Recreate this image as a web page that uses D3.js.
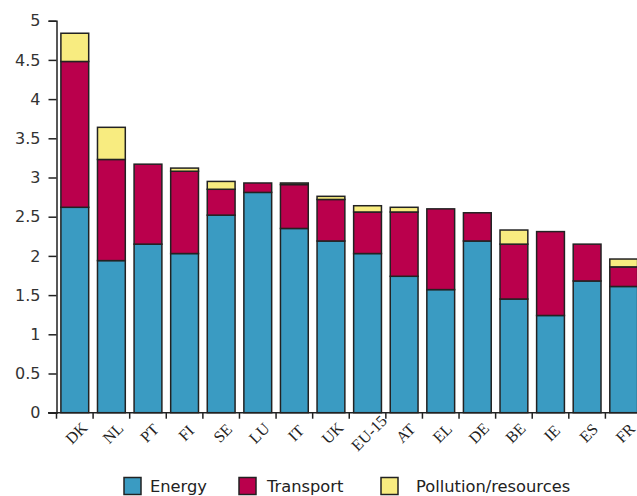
<!DOCTYPE html>
<html>
<head>
<meta charset="utf-8">
<script src="https://cdn.jsdelivr.net/npm/d3@7/dist/d3.min.js"></script>
<style>
  html, body { margin: 0; padding: 0; background: #ffffff; overflow: hidden; }
  svg { display: block; }
</style>
</head>
<body>
<svg id="chart" width="637" height="496"></svg>
<script>
// Countries, ordered by total contribution
const countries = ["DK", "NL", "PT", "FI", "SE", "LU", "IT", "UK", "EU-15", "AT", "EL", "DE", "BE", "IE", "ES", "FR"];

// Stacked components per country
const energy    = [2.62, 1.94, 2.15, 2.03, 2.52, 2.81, 2.35, 2.19, 2.03, 1.74, 1.57, 2.19, 1.45, 1.24, 1.68, 1.61];
const transport = [1.86, 1.29, 1.02, 1.05, 0.33, 0.12, 0.56, 0.53, 0.53, 0.82, 1.03, 0.36, 0.70, 1.07, 0.47, 0.25];
const pollution = [0.36, 0.41, 0.00, 0.04, 0.10, 0.00, 0.02, 0.04, 0.08, 0.06, 0.00, 0.00, 0.18, 0.00, 0.00, 0.10];

const seriesNames = ["Energy", "Transport", "Pollution/resources"];
const seriesColors = ["#3a9bc2", "#ba004c", "#f8ec80"];
const yTicks = [0, 0.5, 1, 1.5, 2, 2.5, 3, 3.5, 4, 4.5, 5];

const rows = countries.map((c, i) => ({
  country: c,
  "Energy": energy[i],
  "Transport": transport[i],
  "Pollution/resources": pollution[i]
}));

const svg = d3.select("#chart");

const x = d3.scaleBand()
  .domain(countries)
  .range([56.5, 642])
  .paddingInner(0.24)
  .paddingOuter(0.12);

const y = d3.scaleLinear()
  .domain([0, 5])
  .range([412.7, 20.7]);

const stack = d3.stack().keys(seriesNames);
const layers = stack(rows);

// Bars
const g = svg.append("g");
layers.forEach((layer, li) => {
  g.selectAll(null)
    .data(layer.filter(d => d[1] - d[0] > 0))
    .join("rect")
    .attr("x", d => x(d.data.country))
    .attr("width", x.bandwidth())
    .attr("y", d => y(d[1]))
    .attr("height", d => y(d[0]) - y(d[1]))
    .attr("fill", seriesColors[li])
    .attr("stroke", "#222")
    .attr("stroke-width", 1.5);
});

// Y axis
const yAxis = d3.axisLeft(y)
  .tickValues(yTicks)
  .tickFormat(d3.format("~g"))
  .tickSize(8)
  .tickPadding(8);

const yG = svg.append("g")
  .attr("transform", "translate(56.5,0)")
  .call(yAxis);
yG.select(".domain").attr("stroke", "#222").attr("stroke-width", 1.5);
yG.selectAll(".tick line").attr("stroke", "#222").attr("stroke-width", 1.5);
yG.selectAll(".tick text")
  .attr("fill", "#333")
  .style("font-family", "'DejaVu Sans', Verdana, sans-serif")
  .style("font-size", "16px");

// X axis line with ticks at category boundaries
const xG = svg.append("g");
xG.append("line")
  .attr("x1", 48).attr("x2", 637)
  .attr("y1", y(0)).attr("y2", y(0))
  .attr("stroke", "#222").attr("stroke-width", 1.5);
xG.selectAll(".xtick")
  .data(countries)
  .join("line")
  .attr("class", "xtick")
  .attr("x1", d => x(d) - x.step() * x.paddingOuter())
  .attr("x2", d => x(d) - x.step() * x.paddingOuter())
  .attr("y1", y(0))
  .attr("y2", y(0) + 6)
  .attr("stroke", "#222").attr("stroke-width", 1.5);

xG.selectAll(".xlabel")
  .data(countries)
  .join("text")
  .attr("class", "xlabel")
  .attr("transform", d => `translate(${x(d) + x.bandwidth() / 2 + 1.5},433) rotate(-45)`)
  .attr("text-anchor", "middle")
  .attr("dominant-baseline", "central")
  .attr("fill", "#222")
  .style("font-family", "'Liberation Serif', 'Times New Roman', serif")
  .style("font-size", "16px")
  .text(d => d);

// Legend
const legendX = [124, 239, 381];
const legendTextX = [150, 267, 416];
const legend = svg.append("g");
seriesNames.forEach((name, i) => {
  legend.append("rect")
    .attr("x", legendX[i]).attr("y", 477.5)
    .attr("width", 17).attr("height", 17)
    .attr("fill", seriesColors[i])
    .attr("stroke", "#222").attr("stroke-width", 1.5);
  legend.append("text")
    .attr("x", legendTextX[i]).attr("y", 492)
    .attr("fill", "#222")
    .style("font-family", "'DejaVu Sans', Verdana, sans-serif")
    .style("font-size", "16.3px")
    .text(name);
});
</script>
</body>
</html>
